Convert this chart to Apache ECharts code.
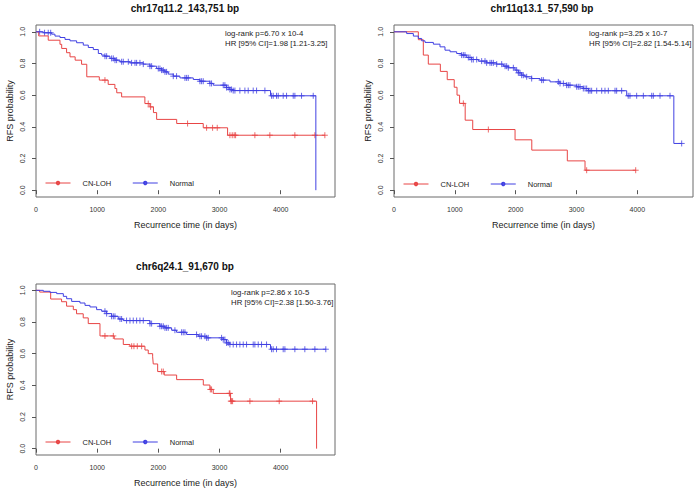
<!DOCTYPE html>
<html>
<head>
<meta charset="utf-8">
<script src="https://cdn.jsdelivr.net/npm/echarts@6/dist/echarts.min.js"></script>
<style>
html,body{margin:0;padding:0;background:#fff;}
#chart{width:697px;height:493px;}
</style>
</head>
<body>
<div id="chart"></div>
<script>
// ---------- data ----------
const groupNames = ['CN-LOH', 'Normal'];
const xTickValues = [0, 1000, 2000, 3000, 4000];
const yTickValues = [0, 0.2, 0.4, 0.6, 0.8, 1.0];
const xAxisTitle = 'Recurrence time (in days)';
const yAxisTitle = 'RFS probability';

const titles = ['chr17q11.2_143,751 bp', 'chr11q13.1_57,590 bp', 'chr6q24.1_91,670 bp'];
const logrankText = ['log-rank p=6.70 x 10-4', 'log-rank p=3.25 x 10-7', 'log-rank p=2.86 x 10-5'];
const hrText = ['HR [95% CI]=1.98 [1.21-3.25]', 'HR [95% CI]=2.82 [1.54-5.14]', 'HR [95% CI]=2.38 [1.50-3.76]'];

// Panel 1: chr17q11.2  [time, survival] at each event
const p1LohSteps = [[0,1],[44,0.974],[200,0.947],[392,0.921],[420,0.895],[500,0.868],[556,0.842],[640,0.821],[745,0.795],[830,0.716],[1035,0.695],[1180,0.668],[1290,0.642],[1320,0.615],[1400,0.589],[1780,0.547],[1863,0.526],[1920,0.49],[1972,0.447],[2300,0.421],[2734,0.394],[3132,0.347],[4722,0.347]];
const p1LohCensor = [1127,1835,1874,2478,2789,2887,2963,3170,3208,3240,3263,3578,3823,4232,4559,4722];
const p1NormSteps = [[0,1],[120,0.994],[256,0.985],[310,0.973],[392,0.964],[474,0.952],[556,0.943],[664,0.931],[773,0.916],[855,0.901],[937,0.888],[1019,0.863],[1073,0.853],[1127,0.846],[1209,0.832],[1291,0.821],[1373,0.811],[1536,0.804],[1754,0.796],[1863,0.783],[1972,0.768],[2053,0.758],[2108,0.747],[2162,0.733],[2244,0.72],[2353,0.709],[2571,0.699],[2680,0.688],[2843,0.674],[2898,0.663],[3115,0.648],[3170,0.636],[3224,0.629],[3834,0.596],[4575,0]];
const p1NormCensor = [60,140,200,240,1127,1155,1236,1264,1291,1318,1400,1427,1509,1563,1618,1645,1699,1754,1863,1890,1999,2026,2053,2081,2108,2135,2244,2298,2435,2462,2489,2680,2707,2734,2843,2870,3061,3088,3115,3142,3170,3197,3224,3252,3333,3415,3469,3551,3606,3742,3851,3878,3932,3960,4041,4096,4205,4232,4341,4532];

// Panel 2: chr11q13.1
const p2LohSteps = [[0,1],[400,0.95],[482,0.853],[564,0.796],[762,0.75],[875,0.698],[990,0.65],[1036,0.6],[1078,0.548],[1170,0.442],[1294,0.383],[1990,0.318],[2265,0.253],[2849,0.185],[3140,0.126],[3973,0.126]];
const p2LohCensor = [1140,1551,3167,3973];
const p2NormSteps = [[0,1],[208,0.989],[318,0.973],[400,0.958],[455,0.943],[510,0.933],[647,0.922],[756,0.905],[838,0.884],[921,0.874],[1030,0.863],[1112,0.853],[1195,0.838],[1277,0.825],[1386,0.815],[1523,0.804],[1688,0.796],[1797,0.783],[1879,0.773],[1989,0.758],[2044,0.741],[2099,0.726],[2153,0.716],[2263,0.705],[2400,0.695],[2564,0.684],[2729,0.674],[2838,0.663],[3003,0.653],[3112,0.642],[3195,0.628],[3825,0.596],[4600,0.295],[4729,0.295]];
const p2NormCensor = [1112,1140,1167,1222,1249,1277,1304,1359,1441,1496,1523,1578,1605,1633,1688,1770,1825,1852,1879,1962,2016,2044,2071,2099,2126,2181,2263,2427,2455,2701,2729,2784,2838,2866,2893,3003,3030,3058,3112,3140,3167,3195,3222,3249,3332,3414,3468,3523,3633,3660,3742,3850,3879,3989,4099,4236,4263,4373,4537,4729];

// Panel 3: chr6q24.1
const p3LohSteps = [[0,1],[60,0.989],[240,0.945],[418,0.928],[500,0.9],[610,0.878],[663,0.852],[772,0.826],[854,0.79],[1046,0.712],[1279,0.693],[1427,0.658],[1536,0.647],[1781,0.623],[1835,0.6],[1907,0.58],[1917,0.535],[1989,0.487],[2097,0.465],[2299,0.436],[2735,0.402],[2843,0.374],[2897,0.349],[3181,0.30],[4587,0]];
const p3LohCensor = [1127,1264,1564,1601,1656,1727,2054,2081,2850,2870,3160,3170,3185,3198,3214,3497,3976,4521];
const p3NormSteps = [[0,1],[120,0.994],[229,0.987],[338,0.979],[447,0.962],[501,0.947],[583,0.93],[719,0.92],[801,0.905],[882,0.895],[991,0.878],[1073,0.868],[1155,0.853],[1236,0.836],[1345,0.819],[1427,0.809],[1863,0.79],[2026,0.773],[2108,0.763],[2217,0.748],[2298,0.735],[2462,0.721],[2652,0.71],[2789,0.70],[3061,0.689],[3115,0.668],[3170,0.658],[3834,0.628],[4738,0.628]];
const p3NormCensor = [1127,1155,1236,1264,1291,1373,1400,1481,1536,1590,1645,1699,1754,1863,1890,2026,2053,2081,2108,2135,2162,2271,2380,2407,2435,2625,2680,2707,2761,2789,2816,3034,3061,3088,3115,3142,3170,3224,3279,3333,3388,3442,3551,3578,3633,3687,3769,3851,3878,3932,4041,4069,4232,4395,4559,4738];

// ---------- layout / style ----------
const RED = '#e84545';
const BLUE = '#4040e2';
const FONT = '"Liberation Sans", Arial, sans-serif';

const panels = [
  {steps: [p1LohSteps, p1NormSteps], censor: [p1LohCensor, p1NormCensor],
   grid: {left: 36, top: 25, width: 299, height: 172}, xMax: 4888, yMin: -0.043, yMax: 1.043,
   titlePos: [185, 8], notePos: [225, 33], legendPos: [40, 174]},
  {steps: [p2LohSteps, p2NormSteps], censor: [p2LohCensor, p2NormCensor],
   grid: {left: 394, top: 25, width: 299, height: 172}, xMax: 4915, yMin: -0.043, yMax: 1.043,
   titlePos: [542, 8], notePos: [589, 33], legendPos: [398, 175]},
  {steps: [p3LohSteps, p3NormSteps], censor: [p3LohCensor, p3NormCensor],
   grid: {left: 36, top: 284, width: 299, height: 171}, xMax: 4888, yMin: -0.04, yMax: 1.04,
   titlePos: [185, 266], notePos: [231, 292], legendPos: [40, 433]}
];

function survAt(steps, t) {
  let s = steps[0][1];
  for (const p of steps) { if (p[0] <= t) s = p[1]; else break; }
  return s;
}

const grids = [], xAxes = [], yAxes = [], series = [], legends = [], graphics = [];
const plusPath = 'path://M0,5L10,5M5,0L5,10';

panels.forEach((p, i) => {
  grids.push(Object.assign({show: true, borderColor: '#6a6a6a', borderWidth: 1, backgroundColor: 'transparent'}, p.grid));
  xAxes.push({
    type: 'value', gridIndex: i, min: 0, max: p.xMax,
    axisLine: {show: false},
    axisTick: {show: true, length: 4, lineStyle: {color: '#555'}, customValues: xTickValues},
    axisLabel: {show: true, customValues: xTickValues, fontSize: 7, color: '#333', fontFamily: FONT, margin: 9,
      formatter: v => String(Math.round(v))},
    splitLine: {show: false},
    name: xAxisTitle, nameLocation: 'middle', nameGap: 23,
    nameTextStyle: {fontSize: 9, color: '#222', fontFamily: FONT}
  });
  yAxes.push({
    type: 'value', gridIndex: i, min: p.yMin, max: p.yMax,
    axisLine: {show: false},
    axisTick: {show: true, length: 4, lineStyle: {color: '#555'}, customValues: yTickValues},
    axisLabel: {show: true, customValues: yTickValues, rotate: 90, fontSize: 7, color: '#333', fontFamily: FONT, margin: 10,
      formatter: v => v.toFixed(1)},
    splitLine: {show: false},
    name: yAxisTitle, nameLocation: 'middle', nameGap: 22,
    nameTextStyle: {fontSize: 9, color: '#222', fontFamily: FONT}
  });
  [RED, BLUE].forEach((col, g) => {
    series.push({
      type: 'line', name: groupNames[g], xAxisIndex: i, yAxisIndex: i,
      step: 'end', data: p.steps[g], showSymbol: false, symbol: 'emptyCircle', symbolSize: 3,
      lineStyle: {color: col, width: 1}, itemStyle: {color: col, borderWidth: 1}, animation: false, silent: true
    });
    series.push({
      type: 'scatter', name: groupNames[g] + ' censored', xAxisIndex: i, yAxisIndex: i,
      data: p.censor[g].map(t => [t, survAt(p.steps[g], t)]),
      symbol: plusPath, symbolSize: 6,
      itemStyle: {color: 'none', borderColor: col, borderWidth: 1},
      animation: false, silent: true
    });
  });
  legends.push({
    left: p.legendPos[0], top: p.legendPos[1], data: groupNames, orient: 'horizontal',
    itemWidth: 25, itemHeight: 3, itemGap: 21, selectedMode: false,
    lineStyle: {width: 1}, itemStyle: {borderWidth: 1},
    textStyle: {fontSize: 7.5, color: '#222', fontFamily: FONT, padding: [0, 0, 0, 7]}
  });
  graphics.push({type: 'text', x: p.titlePos[0], y: p.titlePos[1],
    style: {text: titles[i], fill: '#111', font: 'bold 10px ' + FONT, textAlign: 'center', textVerticalAlign: 'middle'}});
  graphics.push({type: 'text', x: p.notePos[0], y: p.notePos[1],
    style: {text: logrankText[i], fill: '#222', font: '7.8px ' + FONT, textAlign: 'left', textVerticalAlign: 'middle'}});
  graphics.push({type: 'text', x: p.notePos[0], y: p.notePos[1] + 10,
    style: {text: hrText[i], fill: '#222', font: '7.8px ' + FONT, textAlign: 'left', textVerticalAlign: 'middle'}});
});

const chart = echarts.init(document.getElementById('chart'), null, {renderer: 'svg'});
chart.setOption({
  backgroundColor: '#fff',
  animation: false,
  textStyle: {fontFamily: FONT},
  grid: grids, xAxis: xAxes, yAxis: yAxes, series: series, legend: legends, graphic: graphics
});
</script>
</body>
</html>
